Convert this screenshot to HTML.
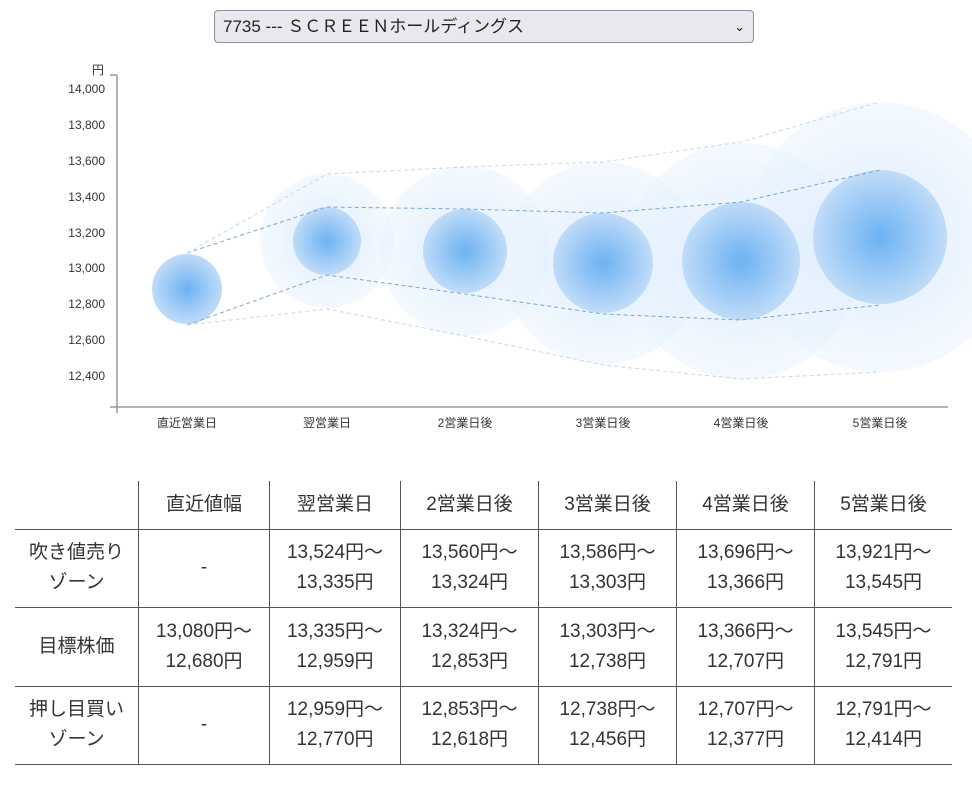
<!DOCTYPE html>
<html><head><meta charset="utf-8"><style>
body{margin:0;width:972px;height:794px;background:#fff;font-family:"Liberation Sans","Noto Sans CJK JP",sans-serif;position:relative;overflow:hidden}
.sel{position:absolute;left:214px;top:10px;width:540px;height:33px;background:#e9e9ed;border:1px solid #8f8f9d;border-radius:4px;box-sizing:border-box;font-size:17px;color:#222;line-height:31px;padding-left:8px}
.sel span{position:absolute;right:8px;top:0;font-size:13px}
table{position:absolute;left:15px;top:481px;border-collapse:collapse;font-size:19px;color:#333}
td{border:1px solid #555;text-align:center;line-height:30px;padding:0}
tr td:first-child{border-left:none}
tr td:last-child{border-right:none}
tr:first-child td{border-top:none}
</style></head><body>
<div class="sel">7735 --- ＳＣＲＥＥＮホールディングス<span>⌄</span></div>
<svg width="972" height="460" style="position:absolute;left:0;top:0" font-family="Liberation Sans,Noto Sans CJK JP,sans-serif">
<defs>
<radialGradient id="g1"><stop offset="0" stop-color="#6cb2f2"/><stop offset="1" stop-color="#c0dcf8"/></radialGradient>
<radialGradient id="g2"><stop offset="0" stop-color="#d6e9fc" stop-opacity=".85"/><stop offset="1" stop-color="#eaf4fe" stop-opacity=".55"/></radialGradient>
</defs>
<g>
<circle cx="327" cy="241" r="67" fill="url(#g2)"/>
<circle cx="465" cy="251" r="85" fill="url(#g2)"/>
<circle cx="603" cy="263" r="101" fill="url(#g2)"/>
<circle cx="741" cy="261" r="118" fill="url(#g2)"/>
<circle cx="880" cy="237" r="135" fill="url(#g2)"/>
</g>
<circle cx="187" cy="289" r="35" fill="url(#g1)"/>
<circle cx="327" cy="241" r="34" fill="url(#g1)"/>
<circle cx="465" cy="251" r="42" fill="url(#g1)"/>
<circle cx="603" cy="263" r="50" fill="url(#g1)"/>
<circle cx="741" cy="261" r="59" fill="url(#g1)"/>
<circle cx="880" cy="237" r="67" fill="url(#g1)"/>
<g fill="none" stroke-dasharray="4,3">
<polyline stroke="#7aa6d0" points="187,253 327,207 465,209 603,213 741,202 880,170"/>
<polyline stroke="#7aa6d0" points="187,325 327,275 465,294 603,314 741,320 880,305"/>
<polyline stroke="#c8d8e8" points="187,253 327,174 465,167 603,162 741,142 880,102"/>
<polyline stroke="#c8d8e8" points="187,325 327,309 465,336 603,365 741,379 880,372"/>
</g>
<g stroke="#999" stroke-width="1.5"><line x1="117" y1="75" x2="117" y2="413"/><line x1="110" y1="407" x2="948" y2="407"/><line x1="110" y1="75" x2="117" y2="75"/></g>
<g font-size="12" fill="#333" text-anchor="end">
<text x="104" y="74">円</text>
<text x="105" y="93">14,000</text><text x="105" y="129">13,800</text><text x="105" y="165">13,600</text><text x="105" y="201">13,400</text><text x="105" y="237">13,200</text><text x="105" y="272">13,000</text><text x="105" y="308">12,800</text><text x="105" y="344">12,600</text><text x="105" y="380">12,400</text>
</g>
<g font-size="12" fill="#333" text-anchor="middle">
<text x="187" y="427">直近営業日</text><text x="327" y="427">翌営業日</text><text x="465" y="427">2営業日後</text><text x="603" y="427">3営業日後</text><text x="741" y="427">4営業日後</text><text x="880" y="427">5営業日後</text>
</g>
</svg>
<table>
<tr style="height:48px"><td style="width:123px"></td><td style="width:130px">直近値幅</td><td style="width:130px">翌営業日</td><td style="width:137px">2営業日後</td><td style="width:137px">3営業日後</td><td style="width:137px">4営業日後</td><td style="width:137px">5営業日後</td></tr>
<tr style="height:78px"><td>吹き値売り<br>ゾーン</td><td>-</td><td>13,524円～<br>13,335円</td><td>13,560円～<br>13,324円</td><td>13,586円～<br>13,303円</td><td>13,696円～<br>13,366円</td><td>13,921円～<br>13,545円</td></tr>
<tr style="height:79px"><td>目標株価</td><td>13,080円～<br>12,680円</td><td>13,335円～<br>12,959円</td><td>13,324円～<br>12,853円</td><td>13,303円～<br>12,738円</td><td>13,366円～<br>12,707円</td><td>13,545円～<br>12,791円</td></tr>
<tr style="height:78px"><td>押し目買い<br>ゾーン</td><td>-</td><td>12,959円～<br>12,770円</td><td>12,853円～<br>12,618円</td><td>12,738円～<br>12,456円</td><td>12,707円～<br>12,377円</td><td>12,791円～<br>12,414円</td></tr>
</table>
</body></html>
